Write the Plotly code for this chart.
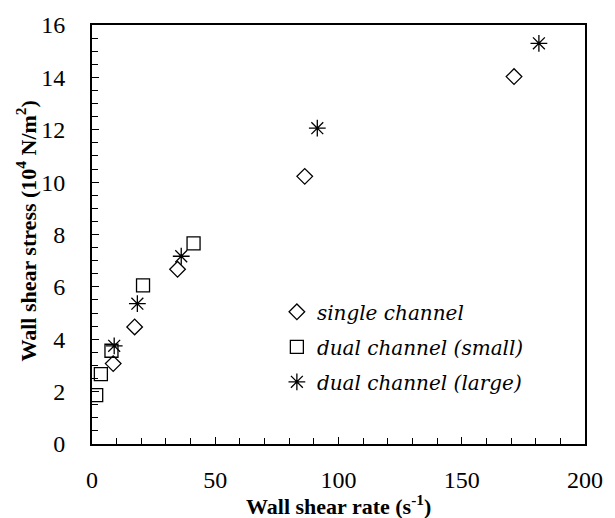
import plotly.graph_objects as go

# Data
single_x = [8.6, 17.3, 34.7, 86.3, 171.2]
single_y = [3.07, 4.47, 6.67, 10.22, 14.03]

small_x = [1.7, 3.6, 7.9, 20.7, 41.2]
small_y = [1.87, 2.67, 3.56, 6.06, 7.66]

large_x = [9.0, 18.4, 36.2, 91.4, 181.3]
large_y = [3.75, 5.36, 7.17, 12.06, 15.30]

names = ["single channel", "dual channel (small)", "dual channel (large)"]
x_title = "<b>Wall shear rate (s<sup>-1</sup>)</b>"
y_title = "<b>Wall shear stress (10<sup>4</sup> N/m<sup>2</sup>)</b>"

FONT = "Liberation Serif"
LEGEND_FONT = "DejaVu Serif"

fig = go.Figure()
fig.add_trace(go.Scatter(x=single_x, y=single_y, mode="markers", name=names[0], legendgroup="a",
                         marker=dict(symbol="diamond-open", size=12, color="black", line=dict(width=1.3))))
fig.add_trace(go.Scatter(x=small_x, y=small_y, mode="markers", name=names[1], legendgroup="b",
                         marker=dict(symbol="square-open", size=13, color="black", line=dict(width=1.3))))
fig.add_trace(go.Scatter(x=large_x, y=large_y, mode="markers", name=names[2], legendgroup="c",
                         marker=dict(symbol="asterisk-open", size=14, color="black", line=dict(width=1.3))))

fig.update_layout(
    width=615, height=518,
    margin=dict(l=92, r=21, t=23, b=74),
    paper_bgcolor="white", plot_bgcolor="white",
    font=dict(family=FONT, size=24, color="black"),
    showlegend=True,
    legend=dict(x=0.375, y=0.362, xanchor="left", yanchor="top",
                bgcolor="rgba(0,0,0,0)", traceorder="grouped", tracegroupgap=6,
                font=dict(family=LEGEND_FONT, size=20, style="italic", color="black"),
                itemwidth=30),
    annotations=[
        dict(text=x_title, xref="paper", yref="paper", x=0.5, y=-0.146,
             xanchor="center", yanchor="middle", showarrow=False,
             font=dict(family=FONT, size=22, color="black")),
        dict(text=y_title, xref="paper", yref="paper", x=-0.133, y=0.508,
             xanchor="center", yanchor="middle", showarrow=False, textangle=-90,
             font=dict(family=FONT, size=22, color="black")),
    ],
)
fig.update_xaxes(
    range=[0, 200], dtick=50, tick0=0,
    showline=True, linecolor="black", linewidth=2, mirror=True,
    ticks="inside", ticklen=7, tickwidth=1, tickcolor="black",
    minor=dict(dtick=10, ticks="inside", ticklen=6, tickcolor="black"),
    showgrid=False, zeroline=False,
    ticklabelstandoff=13,
)
fig.update_yaxes(
    range=[0, 16], dtick=2, tick0=0,
    showline=True, linecolor="black", linewidth=2, mirror=True,
    ticks="inside", ticklen=7, tickwidth=1, tickcolor="black",
    minor=dict(dtick=0.5, ticks="inside", ticklen=6, tickcolor="black"),
    showgrid=False, zeroline=False,
    ticklabelstandoff=20,
)

fig.write_html("out.html", config={"displayModeBar": False},
               post_script="document.body.style.margin='0';document.body.style.padding='0';")
